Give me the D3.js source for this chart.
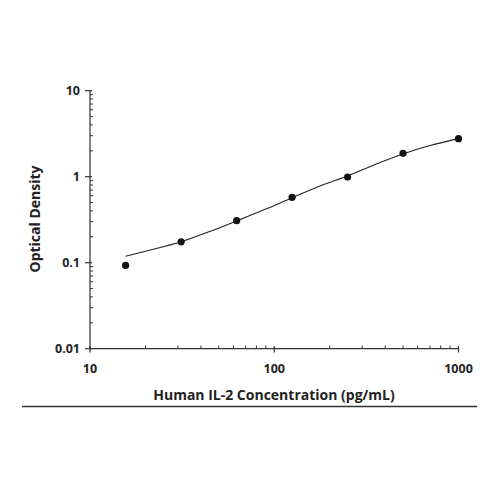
<!DOCTYPE html>
<html><head><meta charset="utf-8">
<script src="https://cdn.jsdelivr.net/npm/d3@7"></script>
<style>body{margin:0;background:#fff}svg{display:block}text{font-family:"Open Sans",Lato,sans-serif;font-weight:700;fill:#222}</style>
</head><body><svg id="c" width="500" height="500"></svg>
<script>
const concentrations = [15.6, 31.25, 62.5, 125, 250, 500, 1000];
const odValues = [0.093, 0.175, 0.308, 0.576, 0.99, 1.87, 2.77];
const curveX = [15.6, 20, 31.25, 45, 62.5, 90, 125, 180, 250, 350, 500, 700, 1000];
const curveY = [0.119, 0.136, 0.175, 0.232, 0.306, 0.42, 0.57, 0.79, 1.02, 1.38, 1.84, 2.3, 2.77];
const xTickValues = [10, 100, 1000];
const yTickValues = [0.01, 0.1, 1, 10];
const xTitle = "Human IL-2 Concentration (pg/mL)";
const yTitle = "Optical Density";

const svg = d3.select("#c");
const x = d3.scaleLog().domain([10, 1000]).range([90, 458.5]);
const y = d3.scaleLog().domain([0.01, 10]).range([348.7, 90.7]);
const axisColor = "#333";

// minor ticks
const xMinor = [];
for (let d = 10; d < 1000; d *= 10) for (let k = 2; k <= 9; k++) xMinor.push(d * k);
const yMinor = [];
for (let d = 0.01; d < 9; d *= 10) for (let k = 2; k <= 9; k++) yMinor.push(d * k);

const gx = svg.append("g");
gx.append("line").attr("x1", 90).attr("x2", 459).attr("y1", 348.7).attr("y2", 348.7).attr("stroke", axisColor).attr("stroke-width", 1.2);
gx.selectAll(".mj").data(xTickValues).join("line")
  .attr("x1", d => x(d)).attr("x2", d => x(d)).attr("y1", 346).attr("y2", 352.5).attr("stroke", axisColor).attr("stroke-width", 1.2);
gx.selectAll(".mn").data(xMinor).join("line")
  .attr("x1", d => x(d)).attr("x2", d => x(d)).attr("y1", 348.7).attr("y2", 345.5).attr("stroke", axisColor).attr("stroke-width", 1);
gx.selectAll("text").data(xTickValues).join("text")
  .attr("x", d => x(d)).attr("y", 373).attr("text-anchor", "middle").attr("font-size", 12.5).text(d => d3.format("~g")(d));

const gy = svg.append("g");
gy.append("line").attr("x1", 90).attr("x2", 90).attr("y1", 90.2).attr("y2", 349.3).attr("stroke", axisColor).attr("stroke-width", 1.2);
gy.selectAll(".mj").data(yTickValues).join("line")
  .attr("x1", 85).attr("x2", 92).attr("y1", d => y(d)).attr("y2", d => y(d)).attr("stroke", axisColor).attr("stroke-width", 1.2);
gy.selectAll(".mn").data(yMinor).join("line")
  .attr("x1", 90).attr("x2", 93).attr("y1", d => y(d)).attr("y2", d => y(d)).attr("stroke", axisColor).attr("stroke-width", 1);
gy.selectAll("text").data(yTickValues).join("text")
  .attr("x", 80).attr("y", d => y(d) + 4.5).attr("text-anchor", "end").attr("font-size", 12.5).text(d => String(d));

// curve
const line = d3.line().x(d => x(d[0])).y(d => y(d[1])).curve(d3.curveMonotoneX);
svg.append("path").datum(curveX.map((c, i) => [c, curveY[i]]))
  .attr("d", line).attr("fill", "none").attr("stroke", "#222").attr("stroke-width", 1.1);

svg.selectAll(".pt").data(concentrations.map((c, i) => [c, odValues[i]])).join("circle")
  .attr("cx", d => x(d[0])).attr("cy", d => y(d[1])).attr("r", 3.6).attr("fill", "#111");

svg.append("text").attr("x", 274).attr("y", 400).attr("text-anchor", "middle").attr("font-size", 14).text(xTitle);
svg.append("text").attr("transform", "translate(40,219) rotate(-90)").attr("text-anchor", "middle").attr("font-size", 14).text(yTitle);

svg.append("line").attr("x1", 22).attr("x2", 477).attr("y1", 406.5).attr("y2", 406.5).attr("stroke", "#333").attr("stroke-width", 1.3);
</script></body></html>
